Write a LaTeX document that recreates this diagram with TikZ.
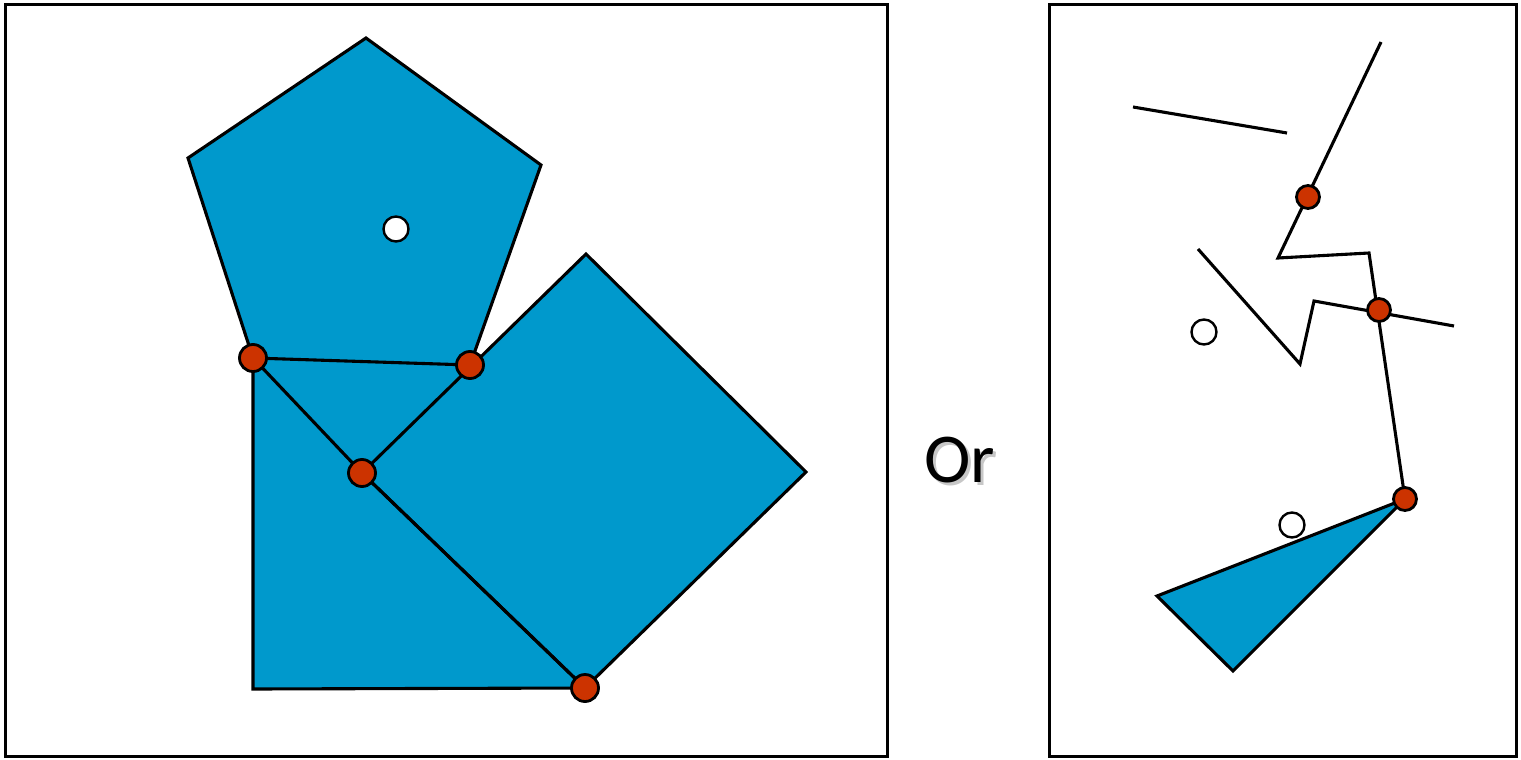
\documentclass[tikz,border=0pt]{standalone}
\usepackage{fontspec}
\newfontfamily\orfont{Carlito}
\definecolor{shapeblue}{HTML}{0099CC}
\definecolor{dotred}{HTML}{CC3300}
\begin{document}
\begin{tikzpicture}[x=0.5pt,y=-0.5pt,
  frame/.style={draw=black,line width=1.5pt},
  edge/.style={draw=black,line width=1.55pt,line join=miter},
  fillshape/.style={fill=shapeblue},
  reddot/.style={circle,draw=black,line width=1.4pt,fill=dotred,minimum size=13.5pt,inner sep=0pt},
  whitedot/.style={circle,draw=black,line width=1.2pt,fill=white,minimum size=12.5pt,inner sep=0pt},
  ortext/.style={font=\orfont\fontsize{35}{40}\selectfont,inner sep=0pt}]
\useasboundingbox (0,0) rectangle (1521,760);
% frames
\draw[frame] (5,4) rectangle (887,756);
\draw[frame] (1049,4) rectangle (1516,756);
% left figure coordinates
\coordinate (p1) at (366,38);
\coordinate (p2) at (541,165);
\coordinate (p3) at (470,365);
\coordinate (p4) at (253,358);
\coordinate (p5) at (188,158);
\coordinate (q1) at (253,689);
\coordinate (q2) at (585,688);
\coordinate (s1) at (586,254);
\coordinate (s2) at (806,472);
\coordinate (c) at (362,473);
% fills
\fill[fillshape] (p1) -- (p2) -- (p3) -- (p4) -- (p5) -- cycle;
\fill[fillshape] (p4) -- (q1) -- (q2) -- (c) -- cycle;
\fill[fillshape] (c) -- (s1) -- (s2) -- (q2) -- cycle;
\fill[fillshape] (p4) -- (p3) -- (c) -- cycle;
% edges
\draw[edge] (p1) -- (p2) -- (p3) -- (p4) -- (p5) -- cycle;
\draw[edge] (p4) -- (q1) -- (q2) -- (c) -- cycle;
\draw[edge] (c) -- (s1) -- (s2) -- (q2) -- cycle;
% dots
\node[whitedot] (w1) at (396,229) {};
\node[reddot] (r1) at (p4) {};
\node[reddot] (r2) at (p3) {};
\node[reddot] (r3) at (c) {};
\node[reddot] (r4) at (q2) {};
% Or
\node[ortext,text=black!40,opacity=0.55] at (963,463) {Or};
\node[ortext] (or) at (960,460) {Or};
% right figure
\coordinate (a1) at (1133,107);
\coordinate (a2) at (1287,133);
\draw[edge] (a1) -- (a2);
\coordinate (b1) at (1381,42);
\coordinate (b2) at (1278,258);
\coordinate (b3) at (1369,253);
\coordinate (b4) at (1405,499);
\coordinate (t1) at (1157,596);
\coordinate (t2) at (1233,671);
\fill[fillshape] (b4) -- (t1) -- (t2) -- cycle;
\draw[edge] (b4) -- (t1) -- (t2) -- cycle;
\draw[edge] (b1) -- (b2) -- (b3) -- (b4);
\coordinate (d1) at (1198,249);
\coordinate (d2) at (1300,364);
\coordinate (d3) at (1314,301);
\coordinate (d4) at (1454,326);
\draw[edge] (d1) -- (d2) -- (d3) -- (d4);
\node[whitedot] (w2) at (1204,332) {};
\node[whitedot] (w3) at (1292,525) {};
\node[reddot,minimum size=11.5pt] (r5) at (1308,197) {};
\node[reddot,minimum size=11.5pt] (r6) at (1379,310) {};
\node[reddot,minimum size=11.5pt] (r7) at (b4) {};
\end{tikzpicture}
\end{document}
